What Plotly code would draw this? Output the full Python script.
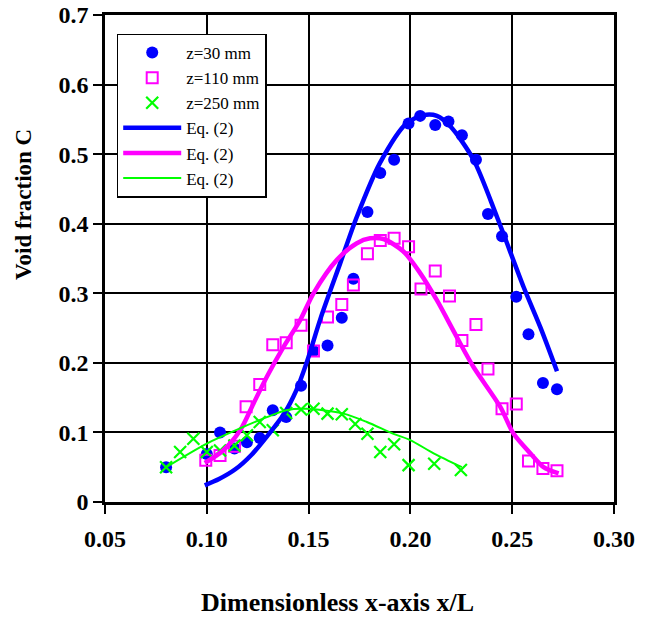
import plotly.graph_objects as go

# ---- data ----
blue_x = [0.080, 0.100, 0.1065, 0.1136, 0.1197, 0.126, 0.1324, 0.139, 0.1463, 0.1524,
          0.1593, 0.1663, 0.172, 0.1789, 0.1852, 0.192, 0.1991, 0.2048, 0.2122, 0.2187,
          0.2253, 0.2322, 0.2381, 0.245, 0.252, 0.258, 0.2651, 0.272]
blue_y = [0.050, 0.069, 0.100, 0.077, 0.086, 0.092, 0.132, 0.122, 0.167, 0.217,
          0.225, 0.265, 0.321, 0.417, 0.473, 0.492, 0.544, 0.555, 0.542, 0.547,
          0.527, 0.492, 0.414, 0.382, 0.295, 0.241, 0.171, 0.162]

mag_x = [0.0995, 0.1065, 0.1136, 0.1193, 0.126, 0.1324, 0.139, 0.1463, 0.1524, 0.1593,
         0.1663, 0.172, 0.1789, 0.1852, 0.192, 0.1991, 0.2052, 0.2122, 0.2192, 0.2253,
         0.2322, 0.2381, 0.245, 0.252, 0.258, 0.2651, 0.272]
mag_y = [0.060, 0.067, 0.080, 0.137, 0.169, 0.226, 0.229, 0.254, 0.217, 0.266,
         0.284, 0.312, 0.357, 0.376, 0.379, 0.367, 0.306, 0.332, 0.296, 0.232,
         0.255, 0.191, 0.134, 0.141, 0.059, 0.048, 0.045]

grn_x = [0.080, 0.0869, 0.0934, 0.100, 0.1065, 0.1136, 0.1197, 0.126, 0.1324, 0.139,
         0.1463, 0.1524, 0.1593, 0.1663, 0.1729, 0.1789, 0.1852, 0.192, 0.1991, 0.2117, 0.2248]
grn_y = [0.050, 0.072, 0.091, 0.072, 0.074, 0.081, 0.096, 0.115, 0.103, 0.128,
         0.133, 0.134, 0.127, 0.126, 0.112, 0.098, 0.072, 0.083, 0.053, 0.055, 0.046]

blue_fit_x = [0.099, 0.106, 0.114, 0.122, 0.130, 0.138, 0.1439, 0.149, 0.156, 0.1655,
              0.1737, 0.185, 0.198, 0.2064, 0.213, 0.2196, 0.231, 0.2425, 0.2556, 0.264, 0.272]
blue_fit_y = [0.024, 0.033, 0.047, 0.068, 0.096, 0.127, 0.160, 0.200, 0.265, 0.343,
              0.410, 0.487, 0.544, 0.556, 0.555, 0.540, 0.492, 0.410, 0.309, 0.250, 0.188]

mag_fit_x = [0.099, 0.108, 0.1164, 0.123, 0.1295, 0.1377, 0.1458, 0.1524, 0.1639, 0.1737,
             0.1802, 0.1868, 0.1966, 0.2048, 0.213, 0.2228, 0.231, 0.2441, 0.2507, 0.2589,
             0.2654, 0.2728]
mag_fit_y = [0.056, 0.074, 0.103, 0.142, 0.180, 0.223, 0.261, 0.300, 0.348, 0.372,
             0.379, 0.378, 0.360, 0.329, 0.290, 0.237, 0.194, 0.137, 0.098, 0.070,
             0.050, 0.041]

grn_fit_x = [0.080, 0.100, 0.1164, 0.1295, 0.139, 0.149, 0.1671, 0.1786, 0.1917, 0.1999,
             0.2114, 0.2253]
grn_fit_y = [0.050, 0.084, 0.106, 0.122, 0.132, 0.134, 0.127, 0.115, 0.098, 0.089,
             0.070, 0.050]

x_ticks = [0.05, 0.10, 0.15, 0.20, 0.25, 0.30]
x_ticktext = ["0.05", "0.10", "0.15", "0.20", "0.25", "0.30"]
y_ticks = [0, 0.1, 0.2, 0.3, 0.4, 0.5, 0.6, 0.7]
y_ticktext = ["0", "0.1", "0.2", "0.3", "0.4", "0.5", "0.6", "0.7"]

names_pts = ["z=30 mm", "z=110 mm", "z=250 mm"]
name_fit = "Eq. (2)"

BLUE = "#0000FF"
MAG = "#FF00FF"
GRN = "#00FF00"
FONT = "Liberation Serif"

fig = go.Figure()

fig.add_trace(go.Scatter(x=blue_x, y=blue_y, mode="markers", name=names_pts[0],
                         marker=dict(symbol="circle", size=12, color=BLUE)))
fig.add_trace(go.Scatter(x=mag_x, y=mag_y, mode="markers", name=names_pts[1],
                         marker=dict(symbol="square-open", size=11, color=MAG,
                                     line=dict(width=2, color=MAG))))
fig.add_trace(go.Scatter(x=grn_x, y=grn_y, mode="markers", name=names_pts[2],
                         marker=dict(symbol="x-thin-open", size=12, color=GRN,
                                     line=dict(width=2.2, color=GRN))))
fig.add_trace(go.Scatter(x=blue_fit_x, y=blue_fit_y, mode="lines", name=name_fit,
                         line=dict(color=BLUE, width=4.5, shape="spline", smoothing=0.8)))
fig.add_trace(go.Scatter(x=mag_fit_x, y=mag_fit_y, mode="lines", name=name_fit,
                         line=dict(color=MAG, width=4.5, shape="spline", smoothing=0.8)))
fig.add_trace(go.Scatter(x=grn_fit_x, y=grn_fit_y, mode="lines", name=name_fit,
                         line=dict(color=GRN, width=2, shape="spline", smoothing=0.8)))

axis_common = dict(
    showgrid=True, gridcolor="black", gridwidth=2,
    showline=True, linecolor="black", linewidth=2.5, mirror=True,
    ticks="outside", ticklen=9, tickwidth=2, tickcolor="black",
    zeroline=False, automargin=False, ticklabeloverflow="allow",
    tickfont=dict(family=FONT, size=24, color="black", weight="bold"),
)

fig.update_xaxes(range=[0.05, 0.30], tickvals=x_ticks, ticktext=x_ticktext,
                 ticklabelstandoff=4, **axis_common)
fig.update_yaxes(range=[0, 0.7], tickvals=y_ticks, ticktext=y_ticktext,
                 ticklabelstandoff=0, **axis_common)

fig.update_layout(
    width=665, height=621,
    margin=dict(l=105, r=51, t=15, b=119),
    plot_bgcolor="white", paper_bgcolor="white",
    font=dict(family=FONT, color="black"),
    showlegend=True,
    legend=dict(x=0.023, y=0.962, xanchor="left", yanchor="top",
                bgcolor="white", bordercolor="black", borderwidth=1.5,
                font=dict(family=FONT, size=17, color="black"),
                itemwidth=58, tracegroupgap=0),
    annotations=[
        dict(text="<b>Dimensionless x-axis x/L</b>", xref="paper", yref="paper",
             x=0.456, y=-0.207, xanchor="center", yanchor="middle", showarrow=False,
             font=dict(family=FONT, size=26, color="black")),
        dict(text="<b>Void fraction C</b>", xref="paper", yref="paper",
             x=-0.159, y=0.61, xanchor="center", yanchor="middle", showarrow=False,
             textangle=-90, font=dict(family=FONT, size=23, color="black")),
    ],
)

# remove the default 8 px page margin so the figure fills the window exactly
fig.write_html("out.html",
               config={"displayModeBar": False},
               post_script="document.body.style.margin='0';document.body.style.overflow='hidden';")
